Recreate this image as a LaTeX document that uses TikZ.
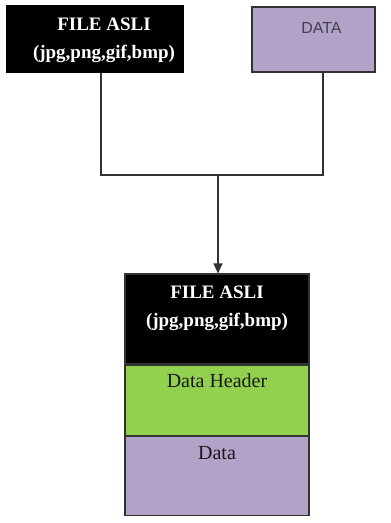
\documentclass[tikz,border=0pt]{standalone}
\usepackage{fontspec}
\setmainfont{Liberation Serif}
\newfontfamily\arialfont{Liberation Sans}
\usetikzlibrary{arrows.meta,positioning}
\definecolor{ungu}{RGB}{179,162,199}
\definecolor{hijau}{RGB}{146,208,80}
\definecolor{garis}{RGB}{50,50,50}
\definecolor{teksdata}{RGB}{64,64,80}

\begin{document}
\begin{tikzpicture}[x=1pt, y=-1pt,
    blok/.style={rectangle, draw=garis, line width=1.2pt, inner sep=0pt, minimum width=#1},
    judul/.style={text=white, font=\fontsize{19}{28}\selectfont\bfseries, align=center, inner sep=0pt},
    isian/.style={text=black!90, font=\fontsize{20}{24}\selectfont, inner sep=0pt},
    arrow/.style={-{Triangle[length=10pt, width=9pt]}, line width=1.2pt, draw=garis}
]
    \useasboundingbox (0,0) rectangle (391,523);

    % input files
    \node[blok=176pt, fill=black, draw=black, minimum height=66pt] (asli) at (95,39) {};
    \node[blok=123pt, fill=ungu, minimum height=65pt] (data) at (313.5,39.5) {};
    \node[judul, below=12pt of asli.north, xshift=9pt] (teksasli) {FILE ASLI\\(jpg,png,gif,bmp)};
    \node[text=teksdata, font=\arialfont\fontsize{16}{19}\selectfont, inner sep=0pt, below=16pt of data.north, xshift=8pt] (teksdata) {DATA};

    % output file
    \node[blok=184pt, fill=black, minimum height=90pt] (hasil) at (217,319) {};
    \node[blok=184pt, fill=hijau, minimum height=70pt, below=0pt of hasil] (header) {};
    \node[blok=184pt, fill=ungu, minimum height=79pt, below=0pt of header] (isi) {};
    \node[judul, below=12pt of hasil.north] (tekshasil) {FILE ASLI\\(jpg,png,gif,bmp)};
    \node[isian, below=9pt of header.north] (teksheader) {Data Header};
    \node[isian, below=10pt of isi.north] (teksisi) {Data};

    \coordinate (gabung) at (218,175);
    \draw[line width=1.2pt, garis] ([xshift=6pt]asli.south) |- (gabung) -| ([xshift=9.5pt]data.south);
    \draw[arrow] (gabung) -- ([xshift=1pt]hasil.north);
\end{tikzpicture}
\end{document}
